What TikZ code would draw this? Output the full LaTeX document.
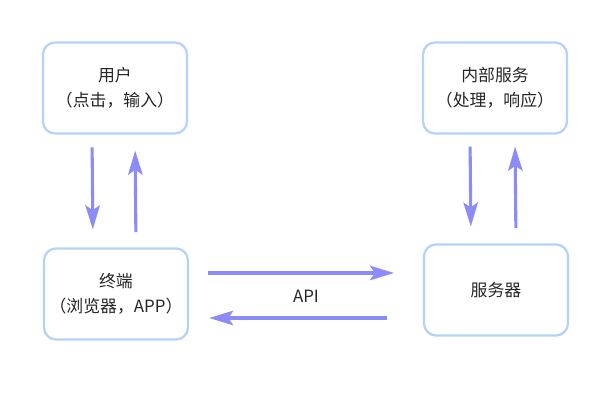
\documentclass[tikz,border=0pt]{standalone}
\usepackage{fontspec}
\setmainfont{Noto Sans CJK SC}
\usetikzlibrary{arrows.meta}
\definecolor{boxblue}{HTML}{B3D3FA}
\definecolor{arrowblue}{HTML}{8B8CF7}
\definecolor{txtgray}{HTML}{262626}
\begin{document}
\begin{tikzpicture}[
  box/.style={rectangle, draw=boxblue, line width=1.6pt, fill=white, minimum width=3.6cm, minimum height=2.275cm, rounded corners=0.3cm, font=\fontsize{12}{17.5}\selectfont, text=txtgray, align=center},
  arrow/.style={-{Stealth[length=0.6cm, width=0.36cm, inset=0.12cm]}, line width=2.2pt, color=arrowblue},
  lbl/.style={font=\fontsize{12}{14}\selectfont, text=txtgray}
]
  \useasboundingbox (0,0) rectangle (15,-10);
  \node[box] (user) at (2.875, -2.2) {用户\\（点击，输入）};
  \node[box] (inner) at (12.375, -2.2) {内部服务\\（处理，响应）};
  \node[box] (term) at (2.9, -7.35) {终端\\（浏览器，APP）};
  \node[box] (server) at (12.4, -7.25) {服务器};

  % User <-> Terminal
  \draw[arrow, shorten <=0.32cm, shorten >=0.45cm] ([xshift=-0.575cm]user.south) -- ([xshift=-0.575cm]term.north);
  \draw[arrow, shorten <=0.38cm, shorten >=0.4cm] ([xshift=0.5cm]term.north) -- ([xshift=0.5cm]user.south);

  % Inner service <-> Server
  \draw[arrow, shorten <=0.3cm, shorten >=0.42cm] ([xshift=-0.625cm]inner.south) -- ([xshift=-0.625cm]server.north);
  \draw[arrow, shorten <=0.38cm, shorten >=0.3cm] ([xshift=0.5cm]server.north) -- ([xshift=0.5cm]inner.south);

  % Terminal <-> Server
  \draw[arrow, shorten <=0.48cm, shorten >=0.72cm] ([yshift=0.525cm]term.east) -- ([yshift=0.525cm]term.east -| server.west)
    node[midway, below=0.28cm, lbl] (api) {API};
  \draw[arrow, shorten <=0.9cm, shorten >=0.5cm] ([yshift=-0.6cm]term.east -| server.west) -- ([yshift=-0.6cm]term.east);
\end{tikzpicture}
\end{document}
